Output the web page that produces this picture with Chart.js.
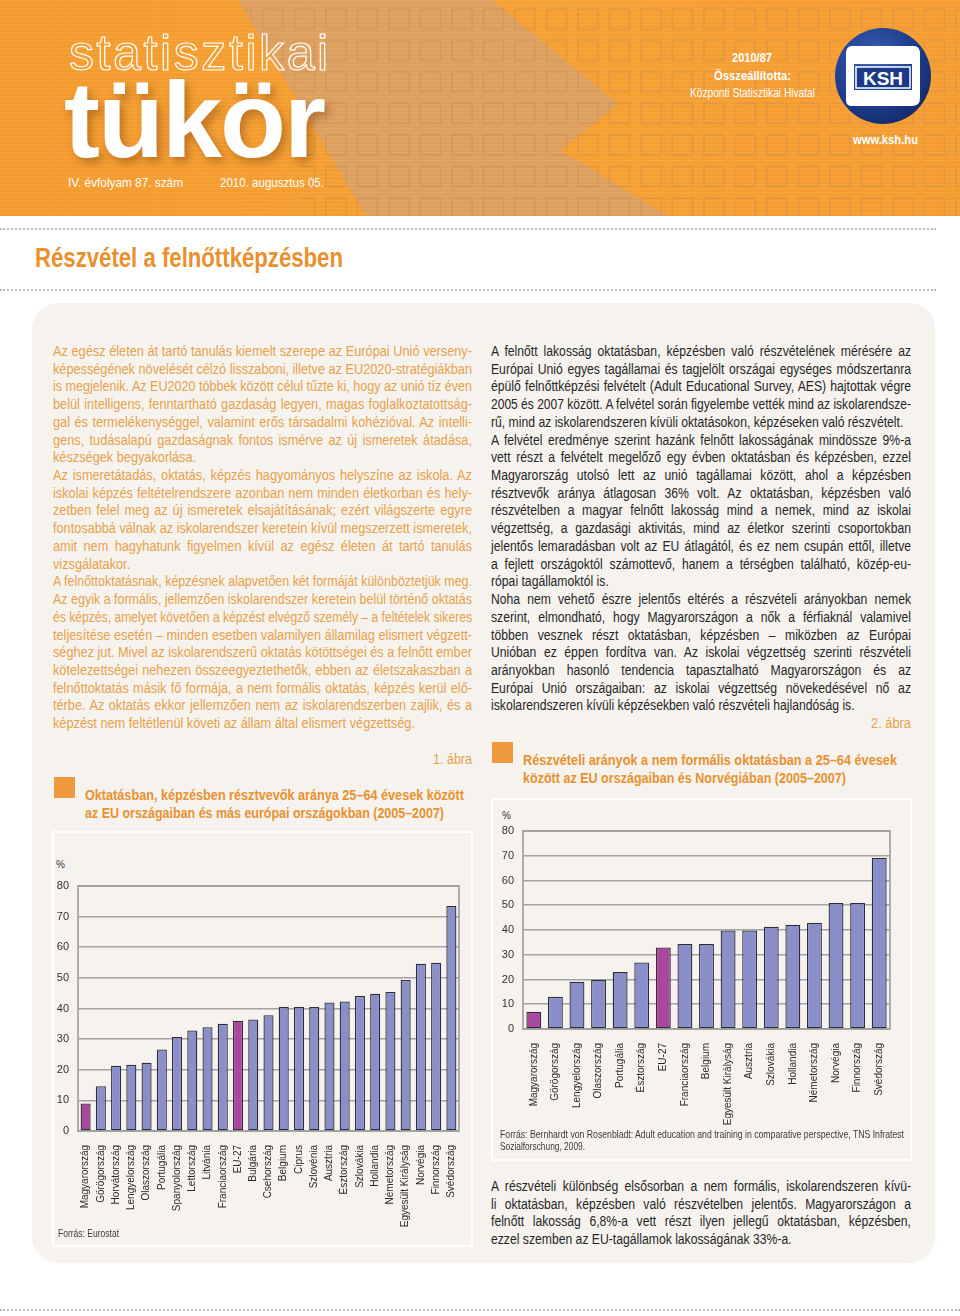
<!DOCTYPE html>
<html>
<head>
<meta charset="utf-8">
<script src="https://cdn.jsdelivr.net/npm/chart.js@4.4.1/dist/chart.umd.min.js"></script>
<style>
  html,body{margin:0;padding:0;background:#fff;}
  body{width:960px;height:1316px;position:relative;overflow:hidden;font-family:"Liberation Sans",Arial,sans-serif;}
  .abs{position:absolute;}
  .fit{position:absolute;white-space:nowrap;transform-origin:0 0;}
  .dots{position:absolute;left:0;width:936px;height:0;border-top:2px dotted #bdbdbd;}
  .panel{position:absolute;left:32px;top:303px;width:903px;height:960px;background:#f6f3ef;border-radius:26px;}
  .col{position:absolute;font-size:14px;line-height:17.72px;}
  .col div{white-space:nowrap;text-align:justify;text-align-last:justify;transform-origin:0 0;}
  .col div.last{text-align-last:left;}
  .orange{color:#e8a04a;}
  .dark{color:#262626;}
  .ctitle{color:#e8912e;font-weight:bold;font-size:15px;line-height:17.5px;}
  .sq{position:absolute;width:21px;height:21px;background:#ee9a3c;}
  .abra{color:#e8a04a;font-size:14px;}
  .cbox{position:absolute;border:2px solid #fff;box-sizing:border-box;background:#f6f3ef;}
  .src{color:#3a3a3a;font-size:11px;line-height:12px;}
  .pct{position:absolute;color:#333;font-size:10px;}
  .hw{color:#fff;font-size:13px;}
</style>
</head>
<body>
<script>
// ---- DATA ----
const chart1Categories = ["Magyarország","Görögország","Horvátország","Lengyelország","Olaszország","Portugália","Spanyolország","Lettország","Litvánia","Franciaország","EU-27","Bulgária","Csehország","Belgium","Ciprus","Szlovénia","Ausztria","Észtország","Szlovákia","Hollandia","Németország","Egyesült Királyság","Norvégia","Finnország","Svédország"];
const chart1Values = [9.0,14.6,21.3,21.6,22.3,26.6,30.7,32.8,33.9,35.0,36.0,36.4,37.8,40.5,40.5,40.5,42.0,42.3,44.1,44.8,45.4,49.3,54.6,54.9,73.5];
const chart2Categories = ["Magyarország","Görögország","Lengyelország","Olaszország","Portugália","Észtország","EU-27","Franciaország","Belgium","Egyesült Királyság","Ausztria","Szlovákia","Hollandia","Németország","Norvégia","Finnország","Svédország"];
const chart2Values = [7.0,13.0,19.1,19.9,23.0,26.9,32.9,34.3,34.3,39.8,39.8,41.3,42.1,42.9,50.9,50.9,69.2];
const highlightCategories = ["Magyarország","EU-27"];
const yTicks = [0,10,20,30,40,50,60,70,80];
</script>

<!-- HEADER -->
<svg class="abs" style="left:0;top:0" width="960" height="216" viewBox="0 0 960 216">
  <defs>
    <linearGradient id="og" x1="0" y1="0" x2="1" y2="0">
      <stop offset="0" stop-color="#f39a2c"/>
      <stop offset="0.5" stop-color="#f6a033"/>
      <stop offset="1" stop-color="#f59c30"/>
    </linearGradient>
    <pattern id="sqp" x="8" y="6" width="31.5" height="31.5" patternUnits="userSpaceOnUse">
      <rect x="3" y="3" width="20" height="20" fill="none" stroke="#c98a4a" stroke-width="1.6" opacity="0.45"/>
    </pattern>
    <pattern id="wave" width="960" height="4" patternUnits="userSpaceOnUse">
      <rect x="0" y="0" width="960" height="1.2" fill="#fff" opacity="0.07"/>
    </pattern>
    <radialGradient id="kg" cx="0.4" cy="0.35" r="0.7">
      <stop offset="0" stop-color="#3d63b8"/>
      <stop offset="0.7" stop-color="#1c3a88"/>
      <stop offset="1" stop-color="#142a66"/>
    </radialGradient>
  </defs>
  <rect width="960" height="216" fill="url(#og)"/>
  <rect x="300" width="660" height="216" fill="url(#sqp)"/>
  <polygon points="238,0 492,0 618,104 560,150 668,216 366,216" fill="#d9a066" opacity="0.85"/>
  <polygon points="238,0 492,0 618,104 560,150 668,216 366,216" fill="url(#sqp)"/>
  <rect width="960" height="216" fill="url(#wave)"/>
  <circle cx="883" cy="76" r="48" fill="url(#kg)"/>
  <path d="M852,46 L914,46 Q920,46 920,54 L920,64 L854,64 L854,66 L846,66 L846,54 Q846,46 852,46 Z" fill="#fff"/>
  <path d="M846,90 L912,90 L912,86 L920,86 L920,98 Q920,106 912,106 L852,106 Q846,106 846,100 Z" fill="#fff"/>
  <rect x="846" y="64" width="8" height="26" fill="#fff"/>
  <rect x="912" y="64" width="8" height="26" fill="#fff"/>
  <rect x="856" y="67" width="54" height="21" fill="#1c3a88" stroke="#fff" stroke-width="1.5"/>
  <text x="883" y="85" text-anchor="middle" font-family="Liberation Sans, Arial" font-weight="bold" font-size="19" fill="#fff">KSH</text>
</svg>
<div class="abs" style="left:69px;top:23px;font-family:'Liberation Sans',Arial,sans-serif;font-size:50px;letter-spacing:2.6px;color:transparent;-webkit-text-stroke:1.2px #fff;line-height:60px;">statisztikai</div>
<div class="abs" style="left:64px;top:55px;font-family:'Liberation Sans',Arial,sans-serif;font-weight:bold;font-size:108px;color:#fff;line-height:130px;letter-spacing:-2px;text-shadow:4px 5px 8px rgba(90,40,0,0.35);">tükör</div>
<div class="fit hw" data-w="115" style="left:68px;top:175px;">IV. évfolyam 87. szám</div>
<div class="fit hw" data-w="104" style="left:220px;top:175px;">2010. augusztus 05.</div>
<div class="fit hw" data-w="40" style="left:732px;top:50px;font-weight:bold;">2010/87</div>
<div class="fit hw" data-w="77" style="left:714px;top:68px;font-weight:bold;">Összeállította:</div>
<div class="fit hw" data-w="125" style="left:690px;top:85px;">Központi Statisztikai Hivatal</div>
<div class="fit hw" data-w="65" style="left:853px;top:132px;font-weight:bold;">www.ksh.hu</div>

<div class="dots" style="top:228px;"></div>
<div class="fit" data-w="308" style="left:35px;top:242px;color:#e8912e;font-weight:bold;font-size:27px;line-height:32px;">Részvétel a felnőttképzésben</div>
<div class="dots" style="top:289px;"></div>

<div class="panel"></div>

<!-- LEFT COLUMN -->
<div class="col orange" data-w="419" data-s="0.91" style="left:53px;top:343px;width:419px;">
<div>Az egész életen át tartó tanulás kiemelt szerepe az Európai Unió verseny-</div>
<div>képességének növelését célzó lisszaboni, illetve az EU2020-stratégiákban</div>
<div>is megjelenik. Az EU2020 többek között célul tűzte ki, hogy az unió tíz éven</div>
<div>belül intelligens, fenntartható gazdaság legyen, magas foglalkoztatottság-</div>
<div>gal és termelékenységgel, valamint erős társadalmi kohézióval. Az intelli-</div>
<div>gens, tudásalapú gazdaságnak fontos ismérve az új ismeretek átadása,</div>
<div class="last">készségek begyakorlása.</div>
<div>Az ismeretátadás, oktatás, képzés hagyományos helyszíne az iskola. Az</div>
<div>iskolai képzés feltételrendszere azonban nem minden életkorban és hely-</div>
<div>zetben felel meg az új ismeretek elsajátításának; ezért világszerte egyre</div>
<div>fontosabbá válnak az iskolarendszer keretein kívül megszerzett ismeretek,</div>
<div>amit nem hagyhatunk figyelmen kívül az egész életen át tartó tanulás</div>
<div class="last">vizsgálatakor.</div>
<div>A felnőttoktatásnak, képzésnek alapvetően két formáját különböztetjük meg.</div>
<div>Az egyik a formális, jellemzően iskolarendszer keretein belül történő oktatás</div>
<div>és képzés, amelyet követően a képzést elvégző személy – a feltételek sikeres</div>
<div>teljesítése esetén – minden esetben valamilyen államilag elismert végzett-</div>
<div>séghez jut. Mivel az iskolarendszerű oktatás kötöttségei és a felnőtt ember</div>
<div>kötelezettségei nehezen összeegyeztethetők, ebben az életszakaszban a</div>
<div>felnőttoktatás másik fő formája, a nem formális oktatás, képzés kerül elő-</div>
<div>térbe. Az oktatás ekkor jellemzően nem az iskolarendszerben zajlik, és a</div>
<div class="last">képzést nem feltétlenül követi az állam által elismert végzettség.</div>
</div>

<!-- RIGHT COLUMN -->
<div class="col dark" data-w="420" data-s="0.87" style="left:491px;top:343px;width:420px;">
<div>A felnőtt lakosság oktatásban, képzésben való részvételének mérésére az</div>
<div>Európai Unió egyes tagállamai és tagjelölt országai egységes módszertanra</div>
<div>épülő felnőttképzési felvételt (Adult Educational Survey, AES) hajtottak végre</div>
<div>2005 és 2007 között. A felvétel során figyelembe vették mind az iskolarendsze-</div>
<div class="last">rű, mind az iskolarendszeren kívüli oktatásokon, képzéseken való részvételt.</div>
<div>A felvétel eredménye szerint hazánk felnőtt lakosságának mindössze 9%-a</div>
<div>vett részt a felvételt megelőző egy évben oktatásban és képzésben, ezzel</div>
<div>Magyarország utolsó lett az unió tagállamai között, ahol a képzésben</div>
<div>résztvevők aránya átlagosan 36% volt. Az oktatásban, képzésben való</div>
<div>részvételben a magyar felnőtt lakosság mind a nemek, mind az iskolai</div>
<div>végzettség, a gazdasági aktivitás, mind az életkor szerinti csoportokban</div>
<div>jelentős lemaradásban volt az EU átlagától, és ez nem csupán ettől, illetve</div>
<div>a fejlett országoktól számottevő, hanem a térségben található, közép-eu-</div>
<div class="last">rópai tagállamoktól is.</div>
<div>Noha nem vehető észre jelentős eltérés a részvételi arányokban nemek</div>
<div>szerint, elmondható, hogy Magyarországon a nők a férfiaknál valamivel</div>
<div>többen vesznek részt oktatásban, képzésben – miközben az Európai</div>
<div>Unióban ez éppen fordítva van. Az iskolai végzettség szerinti részvételi</div>
<div>arányokban hasonló tendencia tapasztalható Magyarországon és az</div>
<div>Európai Unió országaiban: az iskolai végzettség növekedésével nő az</div>
<div class="last">iskolarendszeren kívüli képzésekben való részvételi hajlandóság is.</div>
</div>

<!-- FIGURE 1 -->
<div class="fit abra" data-w="39" style="left:433px;top:751px;">1. ábra</div>
<div class="sq" style="left:54px;top:777px;"></div>
<div class="fit ctitle" data-w="379" style="left:85px;top:786px;">Oktatásban, képzésben résztvevők aránya 25–64 évesek között</div>
<div class="fit ctitle" data-w="359" style="left:85px;top:803.5px;">az EU országaiban és más európai országokban (2005–2007)</div>
<div class="cbox" style="left:52px;top:831px;width:421px;height:416px;"></div>
<div class="pct" style="left:56px;top:859px;">%</div>
<div class="abs" style="left:54px;top:850px;width:418px;height:395px;"><canvas id="c1"></canvas></div>
<div class="fit src" data-w="61" style="left:58px;top:1227px;">Forrás: Eurostat</div>

<!-- FIGURE 2 -->
<div class="fit abra" data-w="40" style="left:871px;top:715px;">2. ábra</div>
<div class="sq" style="left:492px;top:742px;"></div>
<div class="fit ctitle" data-w="374" style="left:523px;top:751px;">Részvételi arányok a nem formális oktatásban a 25–64 évesek</div>
<div class="fit ctitle" data-w="323" style="left:523px;top:768.5px;">között az EU országaiban és Norvégiában (2005–2007)</div>
<div class="cbox" style="left:491px;top:798px;width:421px;height:363px;"></div>
<div class="pct" style="left:502px;top:810px;">%</div>
<div class="abs" style="left:492px;top:798px;width:418px;height:362px;"><canvas id="c2"></canvas></div>
<div class="fit src" data-w="404" style="left:500px;top:1128px;">Forrás: Bernhardt von Rosenbladt: Adult education and training in comparative perspective, TNS Infratest</div>
<div class="fit src" data-w="85" style="left:500px;top:1140px;">Sozialforschung, 2009.</div>

<div class="col dark" data-w="420" data-s="0.87" style="left:491px;top:1178px;width:420px;">
<div>A részvételi különbség elsősorban a nem formális, iskolarendszeren kívü-</div>
<div>li oktatásban, képzésben való részvételben jelentős. Magyarországon a</div>
<div>felnőtt lakosság 6,8%-a vett részt ilyen jellegű oktatásban, képzésben,</div>
<div class="last">ezzel szemben az EU-tagállamok lakosságának 33%-a.</div>
</div>

<div class="dots" style="top:1309px;width:960px;"></div>

<script>
// condense text to the widths measured on the page
document.querySelectorAll('.fit').forEach(el=>{
  const nat = el.getBoundingClientRect().width;
  const w = parseFloat(el.dataset.w);
  el.style.transform = 'scaleX(' + (w/nat) + ')';
});
document.querySelectorAll('.col').forEach(col=>{
  const W = parseFloat(col.dataset.w);
  const S = parseFloat(col.dataset.s);
  col.querySelectorAll('div').forEach(d=>{
    const sp = document.createElement('span'); sp.textContent = d.textContent;
    d.textContent=''; d.appendChild(sp);
    const nat = sp.getBoundingClientRect().width;
    const s = Math.min(S, W/nat);
    d.style.width = (W/s) + 'px';
    d.style.transform = 'scaleX(' + s + ')';
    d.textContent = sp.textContent;
  });
});

const periwinkle = '#8b8fc9';
const magenta = '#a8499d';
function colorsFor(cats){ return cats.map(c => highlightCategories.includes(c) ? magenta : periwinkle); }

const frame = {
  id:'frame',
  beforeDatasetsDraw(chart){
    const a = chart.chartArea, ctx = chart.ctx;
    ctx.save(); ctx.strokeStyle = '#9c9c9c'; ctx.lineWidth = 1.6;
    ctx.strokeRect(a.left, a.top, a.right-a.left, a.bottom-a.top); ctx.restore();
  }
};

function makeChart(id, cats, vals, padTop, padRight, yW, xH, barPct){
  return new Chart(document.getElementById(id), {
    type:'bar',
    data:{labels:cats, datasets:[{data:vals, backgroundColor:colorsFor(cats), borderColor:'#2e2e3a', borderWidth:1.3, borderSkipped:false, categoryPercentage:1, barPercentage:barPct}]},
    options:{
      responsive:true, maintainAspectRatio:false, animation:false,
      layout:{padding:{top:padTop,right:padRight,left:0,bottom:0}},
      plugins:{legend:{display:false}, tooltip:{enabled:false}},
      scales:{
        y:{min:0,max:80,
           afterBuildTicks(s){ s.ticks = yTicks.map(v=>({value:v})); },
           afterFit(s){ s.width = yW; },
           grid:{color:'#a3a3a3', lineWidth:1.6, drawTicks:false},
           border:{display:false},
           ticks:{color:'#333', padding:9, font:{family:"Liberation Sans, Arial", size:11}}},
        x:{afterFit(s){ s.height = xH; },
           grid:{display:false}, border:{display:false},
           ticks:{color:'#2a2a2a', minRotation:90, maxRotation:90, padding:6, autoSkip:false,
                  font:{family:"Liberation Sans, Arial", size:10}}}
      }
    },
    plugins:[frame]
  });
}
makeChart('c1', chart1Categories, chart1Values, 36, 13, 24, 114, 0.66);
makeChart('c2', chart2Categories, chart2Values, 33, 20, 31, 131, 0.69);
</script>
</body>
</html>
